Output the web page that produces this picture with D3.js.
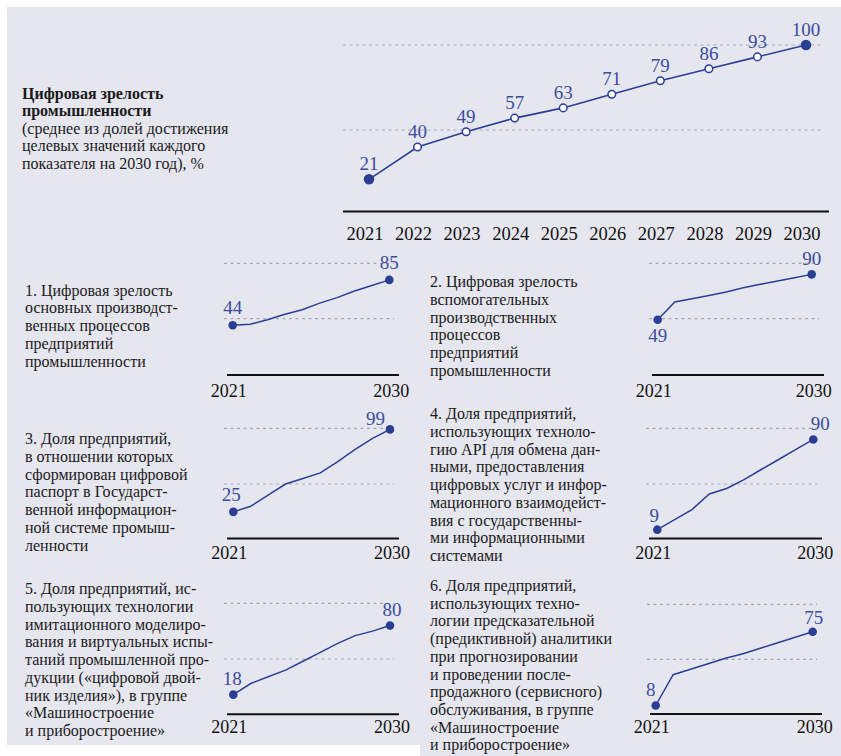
<!DOCTYPE html>
<html>
<head>
<meta charset="utf-8">
<script src="https://cdn.jsdelivr.net/npm/d3@7"></script>
<style>
  body { margin: 0; background: #fff; }
  text { font-family: "Liberation Serif", "Times New Roman", serif; }
</style>
</head>
<body>
<div id="chart"></div>
<script>
/* data */
const years = [2021, 2022, 2023, 2024, 2025, 2026, 2027, 2028, 2029, 2030];
const mainValues = [21, 40, 49, 57, 63, 71, 79, 86, 93, 100];
const gridValues = [50, 100];

const mainTitle = ["Цифровая зрелость", "промышленности"];
const mainNote = ["(среднее из долей достижения", "целевых значений каждого", "показателя на 2030 год), %"];

const series1 = [44, 45, 49, 54, 58, 64, 69, 75, 80, 85];
const series2 = [49, 65, 68, 71, 74, 78, 81, 84, 87, 90];
const series3 = [25, 30, 40, 50, 55, 60, 70, 81, 91, 99];
const series4 = [9, 18, 27, 41, 46, 54, 63, 72, 81, 90];
const series5 = [18, 28, 34, 40, 48, 56, 64, 71, 75, 80];
const series6 = [8, 36, 41, 46, 51, 55, 60, 65, 70, 75];

const titles1 = ["1. Цифровая зрелость", "основных производст-", "венных процессов", "предприятий", "промышленности"];
const titles2 = ["2. Цифровая зрелость", "вспомогательных", "производственных", "процессов", "предприятий", "промышленности"];
const titles3 = ["3. Доля предприятий,", "в отношении которых", "сформирован цифровой", "паспорт в Государст-", "венной информацион-", "ной системе промыш-", "ленности"];
const titles4 = ["4. Доля предприятий,", "использующих техноло-", "гию API для обмена дан-", "ными, предоставления", "цифровых услуг и инфор-", "мационного взаимодейст-", "вия с государственны-", "ми информационными", "системами"];
const titles5 = ["5. Доля предприятий, ис-", "пользующих технологии", "имитационного моделиро-", "вания и виртуальных испы-", "таний промышленной про-", "дукции («цифровой двой-", "ник изделия»), в группе", "«Машиностроение", "и приборостроение»"];
const titles6 = ["6. Доля предприятий,", "использующих техно-", "логии предсказательной", "(предиктивной) аналитики", "при прогнозировании", "и проведении после-", "продажного (сервисного)", "обслуживания, в группе", "«Машиностроение", "и приборостроение»"];

const width = 841, height = 756;
const lineColor = "#2a3f94";
const labelColor = "#3a4d9d";
const gridColor = "#a9a9ad";

const svg = d3.select("#chart")
    .append("svg")
    .attr("width", width)
    .attr("height", height);

// panel background
svg.append("rect").attr("x", 7).attr("y", 7).attr("width", width - 7).attr("height", 738).attr("fill", "#e6e6ef");
svg.append("rect").attr("x", 420).attr("y", 744).attr("width", 421).attr("height", 12).attr("fill", "#e6e6ef");

function lines(g, arr, x, y, lh, size, weight) {
    g.selectAll(null)
        .data(arr)
        .join("text")
        .attr("x", x)
        .attr("y", (d, i) => y + i * lh)
        .attr("font-size", size)
        .attr("font-weight", weight || "normal")
        .attr("fill", "#1a1a1a")
        .text(d => d);
}

/* ---------- main chart ---------- */
const xMain = d3.scaleLinear().domain([2021, 2030]).range([369, 806]);
const yMain = d3.scaleLinear().domain([0, 100]).range([215, 45]);
const mainData = years.map((y, i) => ({ year: y, value: mainValues[i] }));

const gMain = svg.append("g");
gMain.selectAll(".grid")
    .data(gridValues)
    .join("line")
    .attr("x1", 343).attr("x2", 822)
    .attr("y1", d => yMain(d)).attr("y2", d => yMain(d))
    .attr("stroke", gridColor)
    .attr("stroke-width", 1.2)
    .attr("stroke-dasharray", "3,3.5");

gMain.append("line")
    .attr("x1", 343).attr("x2", 829)
    .attr("y1", 211.5).attr("y2", 211.5)
    .attr("stroke", "#111").attr("stroke-width", 2);

gMain.selectAll(".year")
    .data(years)
    .join("text")
    .attr("x", d => xMain(d) - 4)
    .attr("y", 239.5)
    .attr("text-anchor", "middle")
    .attr("font-size", 18.5)
    .attr("fill", "#111")
    .text(d => d);

gMain.append("path")
    .datum(mainData)
    .attr("fill", "none")
    .attr("stroke", lineColor)
    .attr("stroke-width", 1.6)
    .attr("d", d3.line().x(d => xMain(d.year)).y(d => yMain(d.value)));

gMain.selectAll(".dot")
    .data(mainData)
    .join("circle")
    .attr("cx", d => xMain(d.year))
    .attr("cy", d => yMain(d.value))
    .attr("r", (d, i) => (i === 0 || i === mainData.length - 1) ? 4.5 : 3.8)
    .attr("fill", (d, i) => (i === 0 || i === mainData.length - 1) ? lineColor : "#fff")
    .attr("stroke", lineColor)
    .attr("stroke-width", 1.5);

gMain.selectAll(".val")
    .data(mainData)
    .join("text")
    .attr("x", d => xMain(d.year))
    .attr("y", d => yMain(d.value) - 9)
    .attr("text-anchor", "middle")
    .attr("font-size", 19)
    .attr("fill", labelColor)
    .text(d => d.value);

lines(gMain, mainTitle, 22, 98.5, 17.5, 16, "bold");
lines(gMain, mainNote, 22, 133.5, 17.5, 16);

/* ---------- small multiples ---------- */
const smallSeries = [series1, series2, series3, series4, series5, series6];
const smallTitles = [titles1, titles2, titles3, titles4, titles5, titles6];

// positions of each small chart
const panels = [
    { x0: 232.7, x1: 389.3, y0: 374, y100: 263.3, ax: [227, 399], ay: 375, tx: 25, ty: 295.7, yy: 397, lab: [[0, -11, "middle"], [0, -11, "middle"]] },
    { x0: 657.7, x1: 811.7, y0: 374, y100: 263.3, ax: [652, 824], ay: 375, tx: 430, ty: 287.3, yy: 397, lab: [[0, 22, "middle"], [0, -9, "middle"]] },
    { x0: 233.3, x1: 390, y0: 539.7, y100: 428.3, ax: [227, 399], ay: 538.5, tx: 25, ty: 444.3, yy: 558.5, lab: [[-2, -11, "middle"], [-5, -4, "end"]] },
    { x0: 657.3, x1: 813.3, y0: 539.7, y100: 428.3, ax: [649, 822], ay: 538.5, tx: 430, ty: 419.3, yy: 559, lab: [[-3, -8, "middle"], [7, -9, "middle"]] },
    { x0: 233.3, x1: 390, y0: 714.7, y100: 603.3, ax: [227, 399], ay: 714.3, tx: 25, ty: 594.3, yy: 733.3, lab: [[-1, -10, "middle"], [2, -10, "middle"]] },
    { x0: 655.7, x1: 812.7, y0: 714.3, y100: 604.3, ax: [650, 822], ay: 714, tx: 430, ty: 591, yy: 733.3, lab: [[-5, -10, "middle"], [1, -8, "middle"]] }
];

panels.forEach((p, k) => {
    const g = svg.append("g");
    const data = years.map((y, i) => ({ year: y, value: smallSeries[k][i] }));
    const x = d3.scaleLinear().domain([2021, 2030]).range([p.x0, p.x1]);
    const y = d3.scaleLinear().domain([0, 100]).range([p.y0, p.y100]);

    g.selectAll(".grid")
        .data(gridValues)
        .join("line")
        .attr("x1", p.ax[0] - 3).attr("x2", p.ax[1] - 5)
        .attr("y1", d => y(d)).attr("y2", d => y(d))
        .attr("stroke", gridColor)
        .attr("stroke-width", 1.2)
        .attr("stroke-dasharray", "3,3.5");

    g.append("line")
        .attr("x1", p.ax[0]).attr("x2", p.ax[1])
        .attr("y1", p.ay).attr("y2", p.ay)
        .attr("stroke", "#111").attr("stroke-width", 2);

    g.selectAll(".year")
        .data([years[0], years[years.length - 1]])
        .join("text")
        .attr("x", (d, i) => x(d) + (i === 0 ? -4 : 2))
        .attr("y", p.yy)
        .attr("text-anchor", "middle")
        .attr("font-size", 18)
        .attr("fill", "#111")
        .text(d => d);

    g.append("path")
        .datum(data)
        .attr("fill", "none")
        .attr("stroke", lineColor)
        .attr("stroke-width", 1.5)
        .attr("d", d3.line().x(d => x(d.year)).y(d => y(d.value)));

    const ends = [data[0], data[data.length - 1]];
    g.selectAll(".dot")
        .data(ends)
        .join("circle")
        .attr("cx", d => x(d.year))
        .attr("cy", d => y(d.value))
        .attr("r", 4.3)
        .attr("fill", lineColor);

    g.selectAll(".val")
        .data(ends)
        .join("text")
        .attr("x", (d, i) => x(d.year) + p.lab[i][0])
        .attr("y", (d, i) => y(d.value) + p.lab[i][1])
        .attr("text-anchor", (d, i) => p.lab[i][2])
        .attr("font-size", 19)
        .attr("fill", labelColor)
        .text(d => d.value);

    lines(g, smallTitles[k], p.tx, p.ty, 17.7, 16);
});
</script>
</body>
</html>
